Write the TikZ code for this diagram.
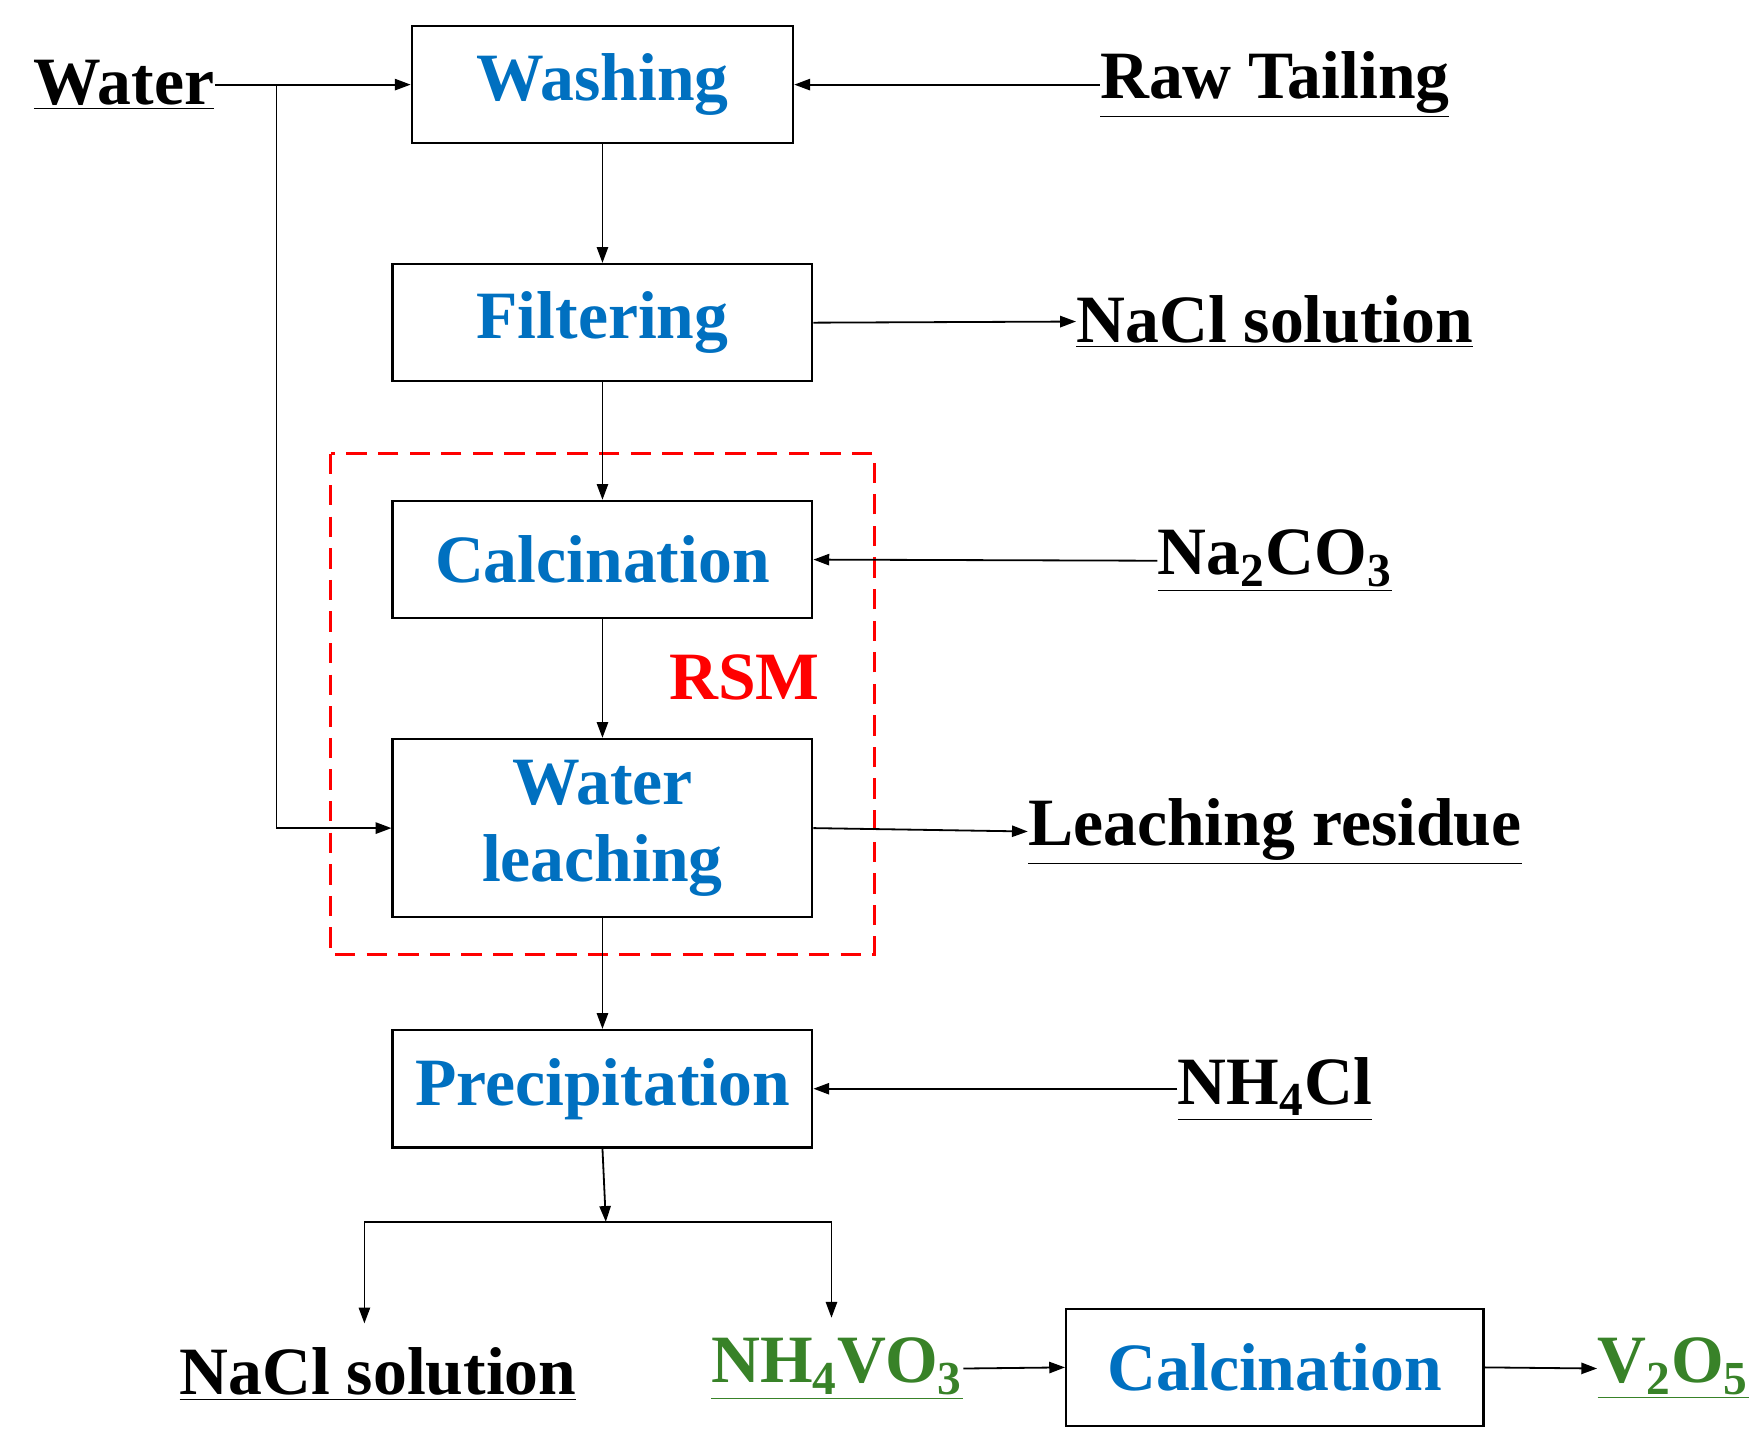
\documentclass[tikz,border=0pt]{standalone}
\usepackage{fontspec}
\setmainfont{Liberation Serif}
\usetikzlibrary{arrows.meta}
\definecolor{pblue}{RGB}{0,112,192}
\definecolor{pgreen}{RGB}{56,130,40}
\begin{document}
\begin{tikzpicture}[x=0.5pt,y=-0.5pt,
  box/.style={draw,line width=1pt,minimum width=186pt,minimum height=52pt,inner sep=0pt,font=\fontsize{30}{34}\selectfont\bfseries,text=pblue,align=center},
  lab/.style={font=\fontsize{30}{34}\selectfont\bfseries,inner sep=0pt},
  ar/.style={-{Triangle[length=7pt,width=5pt]},line width=0.8pt}]
\useasboundingbox (0,0) rectangle (1560,1280);
\node[box,minimum width=169pt] (wash) at (534,75) {Washing};
\node[box] (filt) at (534,286) {Filtering};
\node[box] (calc) at (534,496) {Calcination};
\node[box,minimum height=79pt,text width=180pt,font=\fontsize{30}{36}\selectfont\bfseries] (leach) at (534,734) {Water\\[-2pt]leaching};
\node[box] (prec) at (534,965) {Precipitation};
\node[box,minimum width=185pt] (calc2) at (1130,1212) {Calcination};
\draw[red,dashed,line width=1.5pt,dash pattern=on 9pt off 5pt] (293,402) rectangle (775,846);
\node[lab,text=red] (rsm) at (660,600) {RSM};
\node[lab] (water) at (110,75) {\underline{Water}};
\node[lab] (raw) at (1130,75) {\underline{Raw Tailing}};
\node[lab] (nacl1) at (1130,285) {\underline{NaCl solution}};
\node[lab] (na2) at (1130,497) {\underline{Na\textsubscript{2}CO\textsubscript{3}}};
\node[lab] (res) at (1130,737) {\underline{Leaching residue}};
\node[lab] (nh4) at (1130,965) {\underline{NH\textsubscript{4}Cl}};
\node[lab] (nacl2) at (335,1218) {\underline{NaCl solution}};
\node[lab,text=pgreen] (nhv) at (742,1213) {\underline{NH\textsubscript{4}VO\textsubscript{3}}};
\node[lab,text=pgreen] (v2o5) at (1483,1213) {\underline{V\textsubscript{2}O\textsubscript{5}}};
\coordinate (c1) at (245,75);
\coordinate (split) at (537,1083);
\draw[ar] (water.east) -- (wash.west);
\draw[ar] (c1) |- (leach.west);
\draw[ar] (raw.west) -- (wash.east);
\draw[ar] (wash.south) -- (filt.north);
\draw[ar] (filt.east) -- (nacl1.west);
\draw[ar] (filt.south) -- (calc.north);
\draw[ar] (na2.west) -- (calc.east);
\draw[ar] (calc.south) -- (leach.north);
\draw[ar] (leach.east) -- (res.west);
\draw[ar] (leach.south) -- (prec.north);
\draw[ar] (nh4.west) -- (prec.east);
\draw[ar] (prec.south) -- (split);
\draw[ar,-] (split) -- (323,1083);
\draw[ar] (323,1083) -- (323,1173);
\draw[ar] (split) -- (737,1083) -- (737,1168);
\draw[ar] (nhv.east) -- (calc2.west);
\draw[ar] (calc2.east) -- (v2o5.west);
\end{tikzpicture}
\end{document}
